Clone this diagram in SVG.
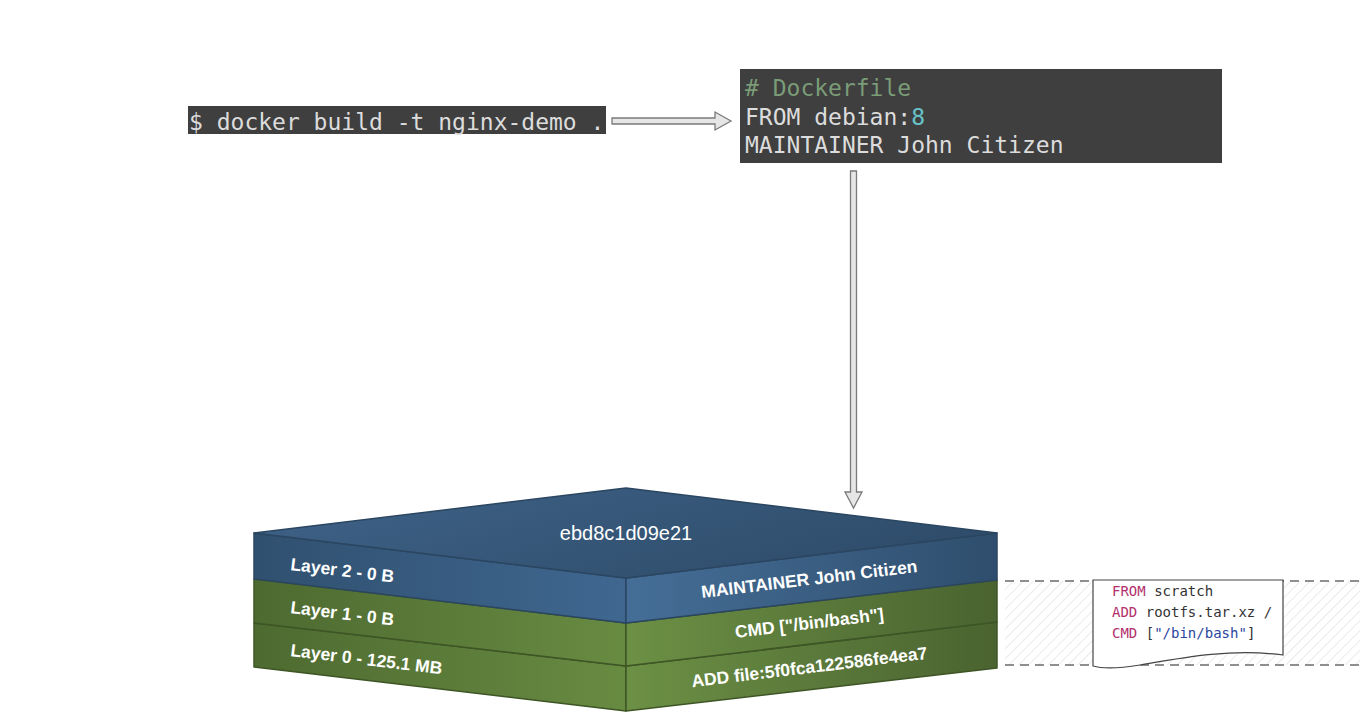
<svg xmlns="http://www.w3.org/2000/svg" width="1364" height="716" viewBox="0 0 1364 716">
<defs>
<style>
.mono{font-family:"DejaVu Sans Mono","Liberation Mono",monospace}
.term{fill:#3f3f3f}
.tt{font-size:23px;fill:#dcdcdc}
.lbl{font-family:"Liberation Sans",Arial,sans-serif;font-weight:bold;font-size:17.5px;fill:#fff}
.arrow{fill:#e6e6e6;stroke:#7a7a7a;stroke-width:1.3}
.be{stroke:#2b4661;stroke-width:1.5;stroke-linejoin:round}
.ge{stroke:#3e5526;stroke-width:1.5;stroke-linejoin:round}
.kw{fill:#b2306c}
.pl{fill:#333}
.st{fill:#2b46a0}
</style>
<linearGradient id="gTop" x1="0" y1="0" x2="1" y2="0.4">
<stop offset="0" stop-color="#3f6389"/>
<stop offset="1" stop-color="#2f4d6b"/>
</linearGradient>
<linearGradient id="gBL" x1="0" y1="0" x2="1" y2="0">
<stop offset="0" stop-color="#30506f"/>
<stop offset="1" stop-color="#3f6790"/>
</linearGradient>
<linearGradient id="gBR" x1="0" y1="0" x2="1" y2="0">
<stop offset="0" stop-color="#456e97"/>
<stop offset="1" stop-color="#2f4e6d"/>
</linearGradient>
<linearGradient id="gGL" x1="0" y1="0" x2="1" y2="0">
<stop offset="0" stop-color="#4d6a30"/>
<stop offset="1" stop-color="#688b42"/>
</linearGradient>
<linearGradient id="gGR" x1="0" y1="0" x2="1" y2="0">
<stop offset="0" stop-color="#6c9045"/>
<stop offset="1" stop-color="#4a6330"/>
</linearGradient>
<pattern id="hatch" width="7" height="7" patternUnits="userSpaceOnUse" patternTransform="rotate(45)">
<rect width="7" height="7" fill="#fff"/>
<line x1="0" y1="0" x2="0" y2="7" stroke="#d6d6d6" stroke-width="1"/>
</pattern>
</defs>
<rect width="1364" height="716" fill="#fff"/>

<g id="command">
<rect class="term" x="188" y="106" width="418" height="28"/>
<text class="mono tt" x="189" y="130">$ docker build -t nginx-demo .</text>
</g>

<g id="dockerfile">
<rect class="term" x="740" y="69" width="482" height="94"/>
<text class="mono tt" x="745" y="96" style="fill:#7a9c77"># Dockerfile</text>
<text class="mono tt" x="745" y="125">FROM debian:<tspan style="fill:#66c2c8">8</tspan></text>
<text class="mono tt" x="745" y="153">MAINTAINER John Citizen</text>
</g>

<g id="connectors">
<polygon class="arrow" points="612,118 715,118 715,112 731,121 715,130 715,124 612,124"/>
<polygon class="arrow" points="850.5,171 856.5,171 856.5,492 862,492 853.5,508 845,492 850.5,492"/>
</g>

<g id="image-stack">
<g id="layer0">
<polygon points="254,623 626,666 626,711 254,667" fill="url(#gGL)" class="ge"/>
<polygon points="626,666 997,622 997,668 626,711" fill="url(#gGR)" class="ge"/>
<text class="lbl" x="290" y="656" transform="rotate(6.9 290 656)">Layer 0 - 125.1 MB</text>
<text class="lbl" x="810" y="673" text-anchor="middle" transform="rotate(-6.9 810 673)">ADD file:5f0fca122586fe4ea7</text>
</g>
<g id="layer1">
<polygon points="254,579 626,623 626,666 254,623" fill="url(#gGL)" class="ge"/>
<polygon points="626,623 997,580 997,622 626,666" fill="url(#gGR)" class="ge"/>
<text class="lbl" x="290" y="613" transform="rotate(6.9 290 613)">Layer 1 - 0 B</text>
<text class="lbl" x="810" y="629" text-anchor="middle" transform="rotate(-6.9 810 629)">CMD ["/bin/bash"]</text>
</g>
<g id="layer2">
<polygon points="254,533 626,578 626,623 254,579" fill="url(#gBL)" class="be"/>
<polygon points="626,578 997,533 997,580 626,623" fill="url(#gBR)" class="be"/>
<polygon points="626,488 997,533 626,578 254,533" fill="url(#gTop)" class="be"/>
<text x="626" y="540" text-anchor="middle" font-family="Liberation Sans, Arial, sans-serif" font-size="20" fill="#fff">ebd8c1d09e21</text>
<text class="lbl" x="290" y="570" transform="rotate(6.9 290 570)">Layer 2 - 0 B</text>
<text class="lbl" x="810" y="585" text-anchor="middle" transform="rotate(-6.9 810 585)">MAINTAINER John Citizen</text>
</g>
</g>

<g id="base-image">
<rect x="1005" y="581" width="355" height="84" fill="url(#hatch)"/>
<line x1="1005" y1="581" x2="1360" y2="581" stroke="#6b6b6b" stroke-width="1.5" stroke-dasharray="9,6"/>
<line x1="1005" y1="665" x2="1360" y2="665" stroke="#6b6b6b" stroke-width="1.5" stroke-dasharray="9,6"/>
<path d="M1093,580 L1283,580 L1283,655 C1230,648 1180,658 1140,665 C1115,669 1100,668 1093,666 Z" fill="#fff" stroke="#444" stroke-width="1.2"/>
<text class="mono" font-size="14" x="1112" y="596"><tspan class="kw">FROM</tspan><tspan class="pl"> scratch</tspan></text>
<text class="mono" font-size="14" x="1112" y="617"><tspan class="kw">ADD</tspan><tspan class="pl"> rootfs.tar.xz /</tspan></text>
<text class="mono" font-size="14" x="1112" y="638"><tspan class="kw">CMD</tspan><tspan class="pl"> [</tspan><tspan class="st">"/bin/bash"</tspan><tspan class="pl">]</tspan></text>
</g>
</svg>
